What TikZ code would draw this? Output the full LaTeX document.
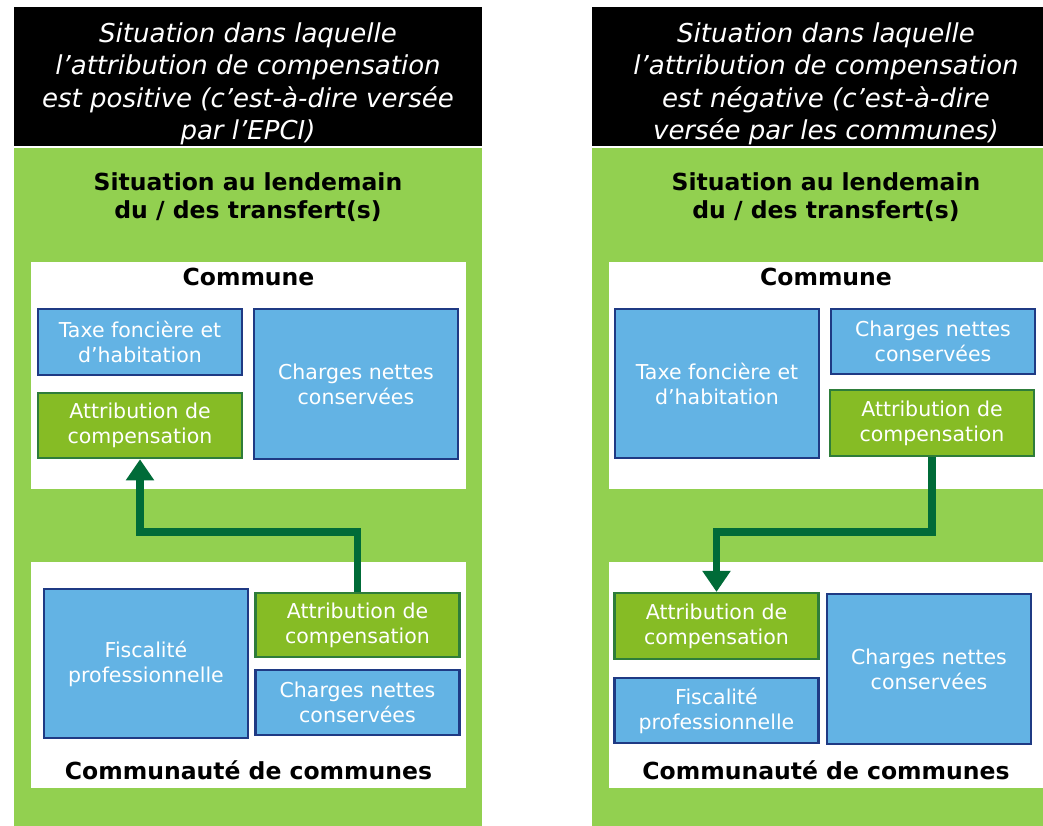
\documentclass[tikz,border=0pt]{standalone}
\usepackage{fontspec}
\setmainfont{DejaVu Sans}
\usetikzlibrary{arrows.meta, positioning}
\definecolor{vertfond}{HTML}{92D050}
\definecolor{bleubox}{HTML}{63B3E4}
\definecolor{bleubord}{HTML}{1F3A84}
\definecolor{vertbox}{HTML}{86BC25}
\definecolor{vertbord}{HTML}{2E7D3A}
\definecolor{vertfleche}{HTML}{006B38}

\begin{document}
\begin{tikzpicture}[x=1pt, y=-1pt,
    entete/.style={fill=black, minimum width=468pt, minimum height=139pt, inner sep=0pt},
    texteentete/.style={text=white, align=center, inner sep=0pt, font=\fontsize{26}{32.5}\selectfont\itshape},
    fond/.style={fill=vertfond, minimum width=468pt, minimum height=678pt, inner sep=0pt},
    cadre/.style={fill=white, minimum width=435pt, inner sep=0pt},
    titre/.style={align=center, font=\fontsize{23.5}{28}\selectfont\bfseries},
    bloc/.style={draw, line width=2.2pt, text=white, align=center, minimum width=204pt, inner sep=0pt, font=\fontsize{20.5}{25}\selectfont},
    bleu/.style={bloc, fill=bleubox, draw=bleubord},
    vert/.style={bloc, fill=vertbox, draw=vertbord},
    fleche/.style={draw=vertfleche, line width=7.5pt, -{Triangle[width=27pt,length=21pt]}}]
    \useasboundingbox (0,0) rectangle (1043,825);

    % Colonne de gauche : attribution positive
    \node[entete] (enteteA) at (248,76.5) {};
    \node[texteentete] (texteA) at (248,84) {Situation dans laquelle\\ l’attribution de compensation\\ est positive (c’est-à-dire versée\\ par l’EPCI)};
    \node[fond] (fondA) at (248,487) {};
    \node[titre] (titreA) at (248,197) {Situation au lendemain\\ du / des transfert(s)};

    \node[cadre, minimum height=227pt] (communeA) at (248.5,375.5) {};
    \node[titre] (labCommuneA) at (248.5,277) {Commune};
    \node[bleu, minimum height=66pt] (taxeA) at (140,342) {Taxe foncière et\\ d’habitation};
    \node[vert, minimum height=65pt, below=16pt of taxeA] (acA) {Attribution de\\ compensation};
    \node[bleu, minimum height=150pt] (chargesA) at (356,384) {Charges nettes\\ conservées};

    \node[cadre, minimum height=226pt] (ccA) at (248.5,675) {};
    \node[bleu, minimum height=149pt] (fiscA) at (146,663.5) {Fiscalité\\ professionnelle};
    \node[vert, minimum height=64pt] (acccA) at (357.5,625) {Attribution de\\ compensation};
    \node[bleu, minimum height=65pt, below=11pt of acccA] (chargesccA) {Charges nettes\\ conservées};
    \node[titre] (labccA) at (248.5,770) {Communauté de communes};

    \coordinate (coudeA) at (0,532);
    \draw[fleche] (acccA.north) -- (acccA.north |- coudeA) -| (acA.south);

    % Colonne de droite : attribution négative
    \node[entete] (enteteB) at (826,76.5) {};
    \node[texteentete] (texteB) at (826,84) {Situation dans laquelle\\ l’attribution de compensation\\ est négative (c’est-à-dire\\ versée par les communes)};
    \node[fond] (fondB) at (826,487) {};
    \node[titre] (titreB) at (826,197) {Situation au lendemain\\ du / des transfert(s)};

    \node[cadre, minimum height=227pt] (communeB) at (826.5,375.5) {};
    \node[titre] (labCommuneB) at (826,277) {Commune};
    \node[bleu, minimum height=149pt] (taxeB) at (717,383.5) {Taxe foncière et\\ d’habitation};
    \node[bleu, minimum height=65pt] (chargesB) at (933,341.5) {Charges nettes\\ conservées};
    \node[vert, minimum height=66pt] (acB) at (932,423) {Attribution de\\ compensation};

    \node[cadre, minimum height=226pt] (ccB) at (826.5,675) {};
    \node[vert, minimum height=66pt] (acccB) at (716.5,626) {Attribution de\\ compensation};
    \node[bleu, minimum height=65pt] (fiscB) at (716.5,710.5) {Fiscalité\\ professionnelle};
    \node[bleu, minimum height=150pt] (chargesccB) at (929,669) {Charges nettes\\ conservées};
    \node[titre] (labccB) at (826,770) {Communauté de communes};

    \coordinate (coudeB) at (0,532);
    \draw[fleche] (acB.south) -- (acB.south |- coudeB) -| (acccB.north);
\end{tikzpicture}
\end{document}
